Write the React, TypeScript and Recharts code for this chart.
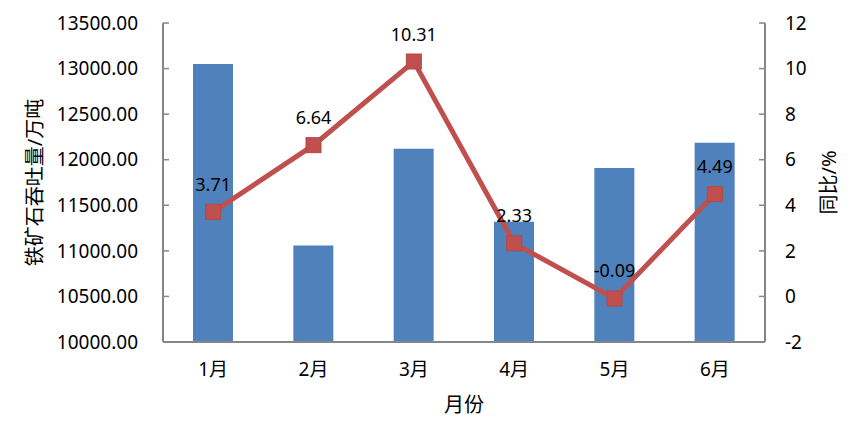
import { ComposedChart, Bar, Line, XAxis, YAxis, LabelList } from 'recharts'

const MONTHS = ['1月', '2月', '3月', '4月', '5月', '6月']
const THROUGHPUT = [13050, 11060, 12120, 11320, 11910, 12185]
const YOY = [3.71, 6.64, 10.31, 2.33, -0.09, 4.49]
const LEFT_TICKS = [10000, 10500, 11000, 11500, 12000, 12500, 13000, 13500]
const RIGHT_TICKS = [-2, 0, 2, 4, 6, 8, 10, 12]
const BOUNDARY_TICKS = [0, 1, 2, 3, 4, 5, 6]

const FONT = '"Noto Sans", "Noto Sans CJK SC", sans-serif'
const AXIS = '#868686'
const BLUE = '#4F81BD'
const RED = '#C0504D'

const data = MONTHS.map((m, i) => ({ month: m, throughput: THROUGHPUT[i], yoy: YOY[i] }))

function SquareDot(props: any) {
  const { cx, cy } = props
  if (cx == null || cy == null) return null
  const s = 15
  return <rect x={cx - s / 2} y={cy - s / 2} width={s} height={s} fill={RED} stroke="#B64845" strokeWidth={1} />
}

export default function App() {
  const tickStyle = { fill: '#000', fontSize: 19, fontFamily: FONT }
  return (
    <div style={{ position: 'absolute', left: 0, top: 0, width: 865, height: 442, background: '#fff' }}>
      <ComposedChart width={865} height={442} data={data} margin={{ top: 23, right: 0, bottom: 0, left: 0 }}>
        <XAxis
          xAxisId="grid"
          type="number"
          domain={[0, 6]}
          ticks={BOUNDARY_TICKS}
          tick={false}
          tickSize={-6}
          axisLine={false}
          tickLine={{ stroke: AXIS, strokeWidth: 1.5 }}
          height={0}
        />
        <XAxis
          dataKey="month"
          tick={tickStyle}
          tickLine={false}
          tickSize={0}
          tickMargin={21}
          axisLine={{ stroke: AXIS, strokeWidth: 2 }}
          height={100}
          label={{ value: '月份', position: 'insideBottom', offset: 30, fontSize: 20, fontFamily: FONT, fill: '#000' }}
        />
        <YAxis
          yAxisId="left"
          domain={[10000, 13500]}
          ticks={LEFT_TICKS}
          tickFormatter={(v: number) => v.toFixed(2)}
          tick={tickStyle}
          tickSize={-6}
          tickMargin={31}
          width={163}
          axisLine={{ stroke: AXIS, strokeWidth: 2 }}
          tickLine={{ stroke: AXIS, strokeWidth: 1.5 }}
          label={{ value: '铁矿石吞吐量/万吨', angle: -90, position: 'center', dx: -47, fontSize: 20, fontFamily: FONT, fill: '#000' }}
        />
        <YAxis
          yAxisId="right"
          orientation="right"
          domain={[-2, 12]}
          ticks={RIGHT_TICKS}
          tick={tickStyle}
          tickSize={-6}
          tickMargin={26}
          width={100}
          axisLine={{ stroke: AXIS, strokeWidth: 2 }}
          tickLine={{ stroke: AXIS, strokeWidth: 1.5 }}
          label={{ value: '同比/%', angle: -90, position: 'center', dx: 14, fontSize: 20, fontFamily: FONT, fill: '#000' }}
        />
        <Bar yAxisId="left" dataKey="throughput" fill={BLUE} barSize={40} isAnimationActive={false} />
        <Line
          yAxisId="right"
          dataKey="yoy"
          type="linear"
          stroke={RED}
          strokeWidth={5}
          dot={<SquareDot />}
          activeDot={false}
          isAnimationActive={false}
        >
          <LabelList dataKey="yoy" position="top" offset={21} fontSize={18} fontFamily={FONT} fill="#000" />
        </Line>
      </ComposedChart>
    </div>
  )
}
